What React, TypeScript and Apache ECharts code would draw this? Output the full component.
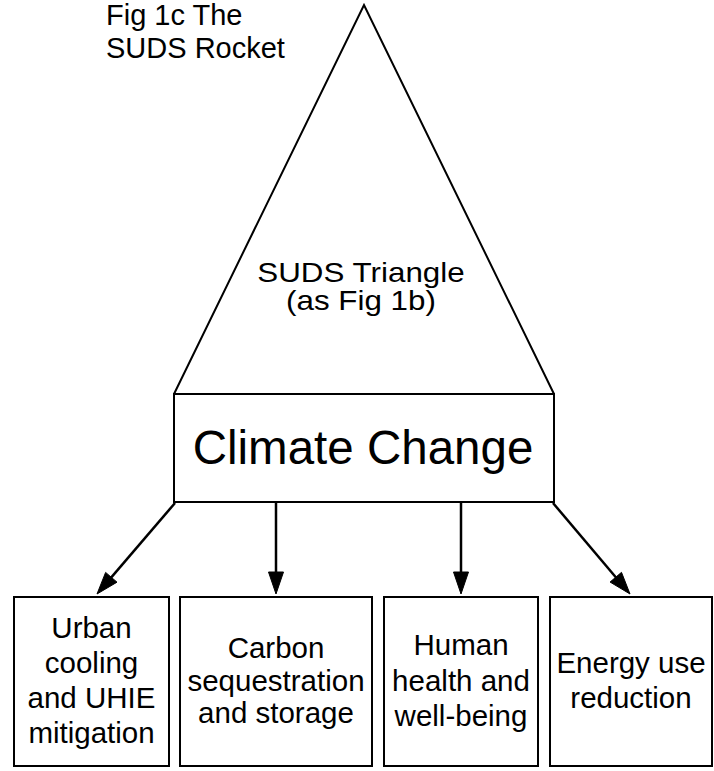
import React, { useEffect, useRef } from "react";
import * as echarts from "echarts";

// ---- content ----
const titleLines = ["Fig 1c The", "SUDS Rocket"];
const triangleLines = ["SUDS Triangle", "(as Fig 1b)"];
const centralLabel = "Climate Change";
const outcomeLabels: string[][] = [
  ["Urban", "cooling", "and UHIE", "mitigation"],
  ["Carbon", "sequestration", "and storage"],
  ["Human", "health and", "well-being"],
  ["Energy use", "reduction"],
];

// ---- layout (pixels) ----
const FONT = "'Liberation Sans', Arial, Helvetica, sans-serif";
const apex = [364, 5];
const cBox = { x: 174, y: 394, w: 380, h: 108 };
const outBoxes = [
  { x: 14, y: 597, w: 155, h: 169, lh: 35 },
  { x: 180, y: 597, w: 192, h: 169, lh: 32.5 },
  { x: 384, y: 597, w: 154, h: 169, lh: 35.5 },
  { x: 550, y: 597, w: 162, h: 169, lh: 34.5 },
];
const arrowSegs = [
  [175, 503, 97, 594],
  [276, 502, 276, 594],
  [461, 502, 461, 594],
  [553, 503, 630, 594],
];

function arrowHead(x1: number, y1: number, x2: number, y2: number) {
  const dx = x2 - x1, dy = y2 - y1;
  const len = Math.hypot(dx, dy);
  const ux = dx / len, uy = dy / len;
  const L = 22, W = 7.5;
  const bx = x2 - ux * L, by = y2 - uy * L;
  return {
    base: [bx + ux * 2, by + uy * 2],
    points: [
      [x2, y2],
      [bx - uy * W, by + ux * W],
      [bx + uy * W, by - ux * W],
    ],
  };
}

export default function App() {
  const ref = useRef<HTMLDivElement>(null);
  useEffect(() => {
    if (!ref.current) return;
    const chart = echarts.init(ref.current, null, { renderer: "svg" });
    const stroke = { stroke: "#000", lineWidth: 2, fill: "none" };
    const els: any[] = [];

    const titleY = [14.5, 48];
    titleLines.forEach((t, i) => {
      els.push({
        type: "text",
        x: 106,
        y: titleY[i],
        style: {
          text: t,
          fontSize: 29,
          fontFamily: FONT,
          fill: "#000",
          align: "left",
          verticalAlign: "middle",
        },
      });
    });

    els.push({
      type: "polyline",
      shape: {
        points: [
          [cBox.x, cBox.y],
          apex,
          [cBox.x + cBox.w, cBox.y],
        ],
      },
      style: { ...stroke, lineJoin: "miter" },
    });

    const triY = [272.5, 300.5];
    triangleLines.forEach((t, i) => {
      els.push({
        type: "text",
        x: 361,
        y: triY[i],
        scaleX: 1.12,
        style: {
          text: t,
          fontSize: 28,
          fontFamily: FONT,
          fill: "#000",
          align: "center",
          verticalAlign: "middle",
        },
      });
    });

    els.push({
      type: "rect",
      shape: { x: cBox.x, y: cBox.y, width: cBox.w, height: cBox.h },
      style: { ...stroke },
    });
    els.push({
      type: "text",
      x: cBox.x + cBox.w / 2 - 1,
      y: 447,
      style: {
        text: centralLabel,
        fontSize: 47.5,
        fontFamily: FONT,
        fill: "#000",
        align: "center",
        verticalAlign: "middle",
      },
    });

    arrowSegs.forEach(([x1, y1, x2, y2]) => {
      const h = arrowHead(x1, y1, x2, y2);
      els.push({
        type: "line",
        shape: { x1, y1, x2: h.base[0], y2: h.base[1] },
        style: { stroke: "#000", lineWidth: 2.5 },
      });
      els.push({
        type: "polygon",
        shape: { points: h.points },
        style: { fill: "#000", stroke: "#000", lineWidth: 1 },
      });
    });

    outBoxes.forEach((b, i) => {
      els.push({
        type: "rect",
        shape: { x: b.x, y: b.y, width: b.w, height: b.h },
        style: { ...stroke },
      });
      els.push({
        type: "text",
        x: b.x + b.w / 2,
        y: 680,
        style: {
          text: outcomeLabels[i].join("\n"),
          fontSize: 29.5,
          fontFamily: FONT,
          lineHeight: b.lh,
          fill: "#000",
          align: "center",
          verticalAlign: "middle",
        },
      });
    });

    chart.setOption({
      animation: false,
      backgroundColor: "#fff",
      graphic: { elements: els },
    });
    return () => chart.dispose();
  }, []);
  return (
    <div
      ref={ref}
      style={{ position: "fixed", left: 0, top: 0, width: 714, height: 771, background: "#fff" }}
    />
  );
}
